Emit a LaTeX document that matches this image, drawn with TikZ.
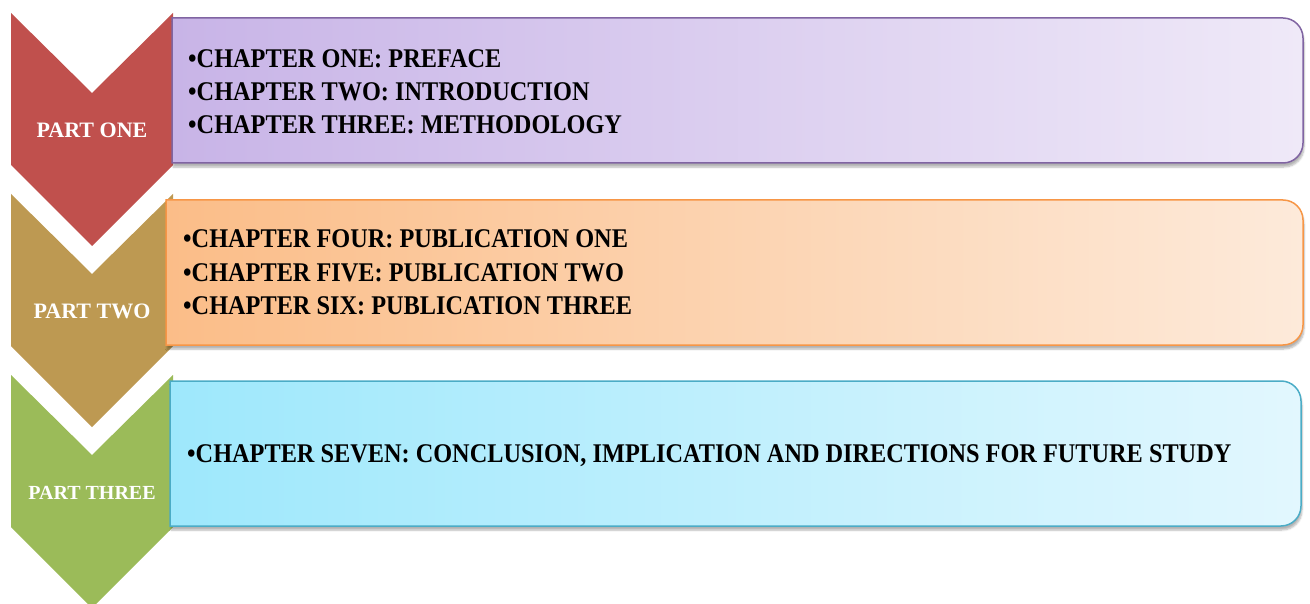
\documentclass[tikz,border=0pt]{standalone}
\usepackage{fontspec}
\setmainfont{Liberation Serif}
\newfontfamily\chapfont[FakeStretch=0.9]{Liberation Serif}
\usetikzlibrary{shadows.blur}

\definecolor{redpart}{RGB}{192,80,77}
\definecolor{tanpart}{RGB}{189,153,82}
\definecolor{greenpart}{RGB}{155,187,89}
\definecolor{purpleline}{RGB}{128,100,162}
\definecolor{orangeline}{RGB}{247,150,70}
\definecolor{blueline}{RGB}{75,172,198}

\begin{document}
\begin{tikzpicture}[x=1pt,y=1pt,yscale=-1,
  chap/.style={anchor=base west, inner sep=0pt, font=\fontsize{27}{27}\chapfont\bfseries},
  part/.style={text=white, inner sep=0pt, font=\fontsize{22}{22}\selectfont\bfseries},
  box/.style={line width=1.5pt, blur shadow={shadow xshift=1pt, shadow yshift=-4pt, shadow blur steps=6, shadow opacity=30}}]

\useasboundingbox (0,0) rectangle (1310,604);

% chevrons
\fill[redpart] (11,13) -- (92,93) -- (173,13) -- (173,165) -- (92,246) -- (11,165) -- cycle;
\fill[tanpart] (11,194) -- (92,274) -- (173,194) -- (173,346) -- (92,427) -- (11,346) -- cycle;
\fill[greenpart] (11,375) -- (92,455) -- (173,375) -- (173,527) -- (92,608) -- (11,527) -- cycle;

% boxes
\draw[box, draw=purpleline, left color={rgb,255:red,200;green,180;blue,231}, right color={rgb,255:red,239;green,233;blue,248}]
  (172,18) -- (1283,18) arc[start angle=-90, end angle=0, radius=20] -- (1303,143)
  arc[start angle=0, end angle=90, radius=20] -- (172,163) -- cycle;
\draw[box, draw=orangeline, left color={rgb,255:red,251;green,189;blue,136}, right color={rgb,255:red,253;green,234;blue,218}]
  (166,200) -- (1283,200) arc[start angle=-90, end angle=0, radius=20] -- (1303,325)
  arc[start angle=0, end angle=90, radius=20] -- (166,345) -- cycle;
\draw[box, draw=blueline, left color={rgb,255:red,158;green,232;blue,252}, right color={rgb,255:red,226;green,247;blue,254}]
  (170,381) -- (1281,381) arc[start angle=-90, end angle=0, radius=20] -- (1301,506)
  arc[start angle=0, end angle=90, radius=20] -- (170,526) -- cycle;

\node[part] (v1) at (92,130) {PART ONE};
\node[part] (v2) at (92,311) {PART TWO};
\node[part, font=\fontsize{20}{20}\selectfont\bfseries] (v3) at (92,493) {PART THREE};

\node[chap] (v4) at (188,68) {•CHAPTER ONE: PREFACE};
\node[chap] (v5) at (188,101) {•CHAPTER TWO: INTRODUCTION};
\node[chap] (v6) at (188,134) {•CHAPTER THREE: METHODOLOGY};
\node[chap] (v7) at (183,248) {•CHAPTER FOUR: PUBLICATION ONE};
\node[chap] (v8) at (183,282) {•CHAPTER FIVE: PUBLICATION TWO};
\node[chap] (v9) at (183,315) {•CHAPTER SIX: PUBLICATION THREE};
\node[chap] (v10) at (187,462) {•CHAPTER SEVEN: CONCLUSION, IMPLICATION AND DIRECTIONS FOR FUTURE STUDY};
\end{tikzpicture}
\end{document}
